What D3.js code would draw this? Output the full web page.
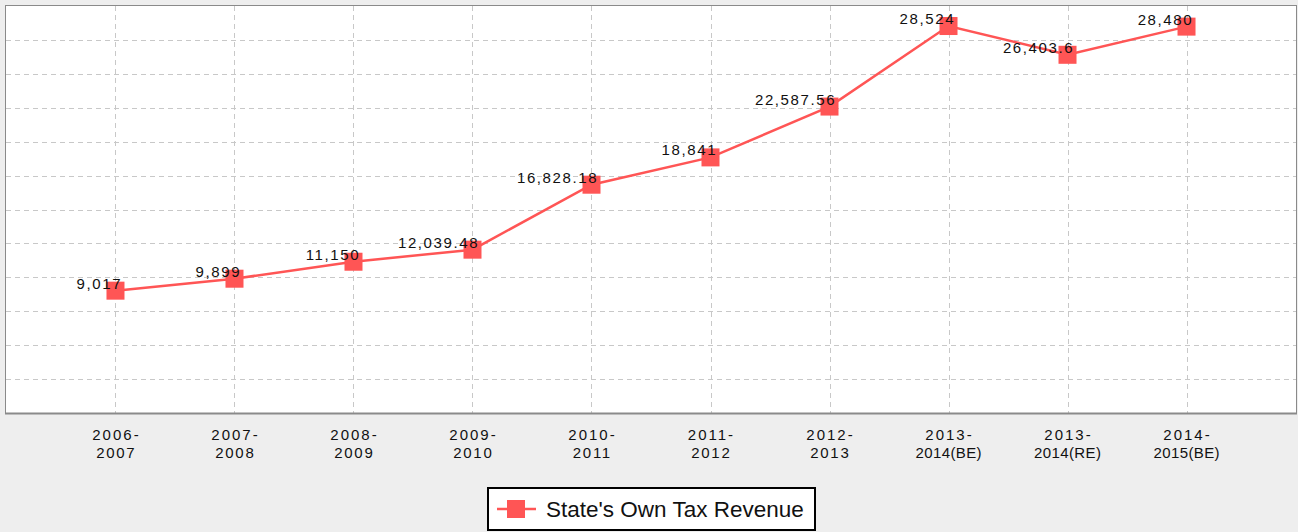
<!DOCTYPE html>
<html>
<head>
<meta charset="utf-8">
<script src="https://cdn.jsdelivr.net/npm/d3@7"></script>
<style>
  body { margin: 0; background: #eeeeee; }
  svg { display: block; font-family: "Liberation Sans", Arial, sans-serif; }
</style>
</head>
<body>
<script>
// chart data
const years = ["2006-2007", "2007-2008", "2008-2009", "2009-2010", "2010-2011",
               "2011-2012", "2012-2013", "2013-2014(BE)", "2013-2014(RE)", "2014-2015(BE)"];
const revenue = [9017, 9899, 11150, 12039.48, 16828.18, 18841, 22587.56, 28524, 26403.6, 28480];
const labels = ["9,017", "9,899", "11,150", "12,039.48", "16,828.18", "18,841",
                "22,587.56", "28,524", "26,403.6", "28,480"];
const seriesName = "State's Own Tax Revenue";

let w = 1298, h = 532;
const plot = { left: 6, top: 6, right: 1296, bottom: 413 };
const red = "#ff5555";

const svg = d3.select("body").append("svg").attr("width", w).attr("height", h);
svg.append("rect").attr("width", w).attr("height", h).attr("fill", "#eeeeee");

const x = d3.scalePoint().domain(years).range([plot.left, plot.right]).padding(0.92);
const y = d3.scaleLinear().domain([0, 30000]).range([plot.bottom, plot.top]);

// plot background
svg.append("rect")
    .attr("x", plot.left).attr("y", plot.top)
    .attr("width", plot.right - plot.left).attr("height", plot.bottom - plot.top)
    .attr("fill", "#fff");

// grid
svg.append("g").selectAll("line")
    .data(d3.range(2500, 30000, 2500))
    .enter().append("line")
    .attr("x1", plot.left).attr("x2", plot.right)
    .attr("y1", d => Math.round(y(d)) + 0.5).attr("y2", d => Math.round(y(d)) + 0.5)
    .attr("stroke", "#c8c8c8").attr("stroke-dasharray", "5,4");

svg.append("g").selectAll("line")
    .data(years)
    .enter().append("line")
    .attr("x1", d => Math.round(x(d)) + 0.5).attr("x2", d => Math.round(x(d)) + 0.5)
    .attr("y1", plot.top).attr("y2", plot.bottom)
    .attr("stroke", "#c8c8c8").attr("stroke-dasharray", "5,4");

// border
svg.append("rect")
    .attr("x", plot.left - 0.5).attr("y", plot.top - 0.5)
    .attr("width", plot.right - plot.left + 1).attr("height", plot.bottom - plot.top + 1)
    .attr("fill", "none").attr("stroke", "#8a8a8a");
svg.append("line")
    .attr("x1", plot.left - 1).attr("x2", plot.right + 1)
    .attr("y1", plot.bottom + 0.5).attr("y2", plot.bottom + 0.5)
    .attr("stroke", "#8a8a8a").attr("stroke-width", 2);

// x tick labels (two lines)
const ticks = svg.append("g").selectAll("text")
    .data(years)
    .enter().append("text")
    .attr("text-anchor", "middle")
    .attr("font-size", 15)
    .attr("fill", "#111");
ticks.each(function (d) {
    const parts = [d.slice(0, 5), d.slice(5)];
    const t = d3.select(this);
    parts.forEach((p, i) => {
        const ls = i === 0 ? 2 : (p.length === 4 ? 1.7 : 0.4);
        t.append("tspan")
            .attr("x", x(d) + ls / 2)
            .attr("y", 440 + i * 18)
            .attr("letter-spacing", ls + "px")
            .text(p);
    });
});

// line
const line = d3.line()
    .x((d, i) => x(years[i]))
    .y(d => y(d));

svg.append("path")
    .datum(revenue)
    .attr("fill", "none")
    .attr("stroke", red)
    .attr("stroke-width", 2.5)
    .attr("d", line);

// markers
svg.append("g").selectAll("rect")
    .data(revenue)
    .enter().append("rect")
    .attr("x", (d, i) => x(years[i]) - 9)
    .attr("y", d => y(d) - 9)
    .attr("width", 18).attr("height", 18)
    .attr("fill", red);

// value labels
svg.append("g").selectAll("text")
    .data(revenue)
    .enter().append("text")
    .attr("x", (d, i) => x(years[i]) + 6.6)
    .attr("y", d => y(d) - 2)
    .attr("text-anchor", "end")
    .attr("font-size", 15)
    .attr("letter-spacing", "1.6px")
    .attr("fill", "#111")
    .text((d, i) => labels[i]);

// legend
const lg = svg.append("g");
lg.append("rect")
    .attr("x", 488).attr("y", 488)
    .attr("width", 327).attr("height", 42)
    .attr("fill", "#fff").attr("stroke", "#000").attr("stroke-width", 2);
lg.append("line")
    .attr("x1", 497).attr("x2", 536).attr("y1", 509).attr("y2", 509)
    .attr("stroke", red).attr("stroke-width", 2.5);
lg.append("rect")
    .attr("x", 507).attr("y", 500).attr("width", 18).attr("height", 18)
    .attr("fill", red);
lg.append("text")
    .attr("x", 546).attr("y", 517)
    .attr("font-size", 22.5)
    .attr("fill", "#111")
    .text(seriesName);
</script>
</body>
</html>
